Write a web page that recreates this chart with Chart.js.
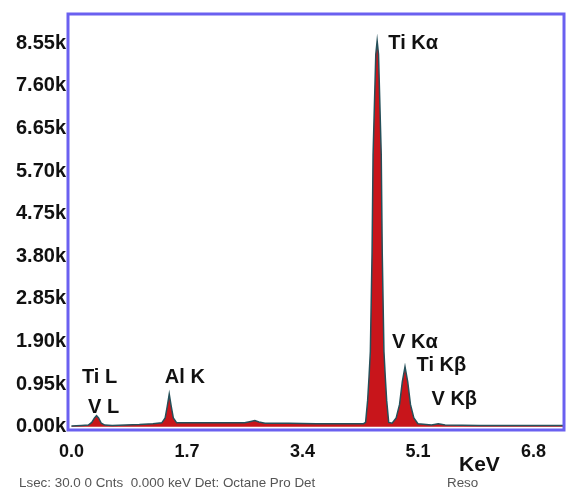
<!DOCTYPE html>
<html>
<head>
<meta charset="utf-8">
<script src="https://cdn.jsdelivr.net/npm/chart.js@4.4.1/dist/chart.umd.min.js"></script>
<style>
  html, body { margin: 0; padding: 0; background: #fff; }
  #wrap { position: relative; width: 566px; height: 494px; }
  #footnote { position: absolute; left: 19px; top: 475px; font: 13.4px "Liberation Sans", Arial, sans-serif; color: #555; white-space: pre; }
  #reso { position: absolute; left: 447px; top: 475px; font: 13.4px "Liberation Sans", Arial, sans-serif; color: #555; }
  #unit { position: absolute; left: 459px; top: 452px; font: bold 21px "Liberation Sans", Arial, sans-serif; color: #111; }
</style>
</head>
<body>
<div id="wrap">
  <canvas id="spectrum" width="566" height="494"></canvas>
  <div id="unit">KeV</div>
  <div id="footnote">Lsec: 30.0 0 Cnts  0.000 keV Det: Octane Pro Det</div>
  <div id="reso">Reso</div>
</div>
<script>
// energy (keV) and counts (thousands)
const energy = [0.00, 0.15, 0.25, 0.30, 0.34, 0.37, 0.40, 0.44, 0.49, 0.60, 0.80, 1.00, 1.20, 1.33, 1.38, 1.41, 1.44, 1.47, 1.50, 1.55,
  1.80, 2.20, 2.55, 2.64, 2.70, 2.76, 2.85, 3.20, 3.60, 4.00, 4.30, 4.33, 4.36, 4.38, 4.40, 4.425, 4.44, 4.48, 4.50, 4.52,
  4.56, 4.575, 4.60, 4.62, 4.64, 4.67, 4.72, 4.78, 4.83, 4.87, 4.91, 4.95, 4.99, 5.04, 5.10, 5.30, 5.40, 5.50, 6.00, 6.80, 7.25];
const counts = [0.02, 0.03, 0.04, 0.10, 0.20, 0.25, 0.20, 0.08, 0.04, 0.03, 0.04, 0.05, 0.07, 0.09, 0.20, 0.45, 0.73, 0.45, 0.20, 0.09,
  0.09, 0.09, 0.09, 0.12, 0.14, 0.11, 0.08, 0.08, 0.07, 0.07, 0.07, 0.10, 0.59, 1.10, 1.68, 3.87, 6.07, 8.30, 8.60, 8.30,
  6.07, 3.87, 1.68, 1.10, 0.59, 0.10, 0.08, 0.20, 0.50, 1.00, 1.34, 1.00, 0.50, 0.20, 0.07, 0.04, 0.07, 0.04, 0.03, 0.03, 0.03];

const xTicks = [0.0, 1.7, 3.4, 5.1, 6.8];
const yTicks = [0.00, 0.95, 1.90, 2.85, 3.80, 4.75, 5.70, 6.65, 7.60, 8.55];

// peak labels: text, keV of left edge, counts of baseline
const peakNames = ['Ti K\u03b1', 'V K\u03b1', 'Ti K\u03b2', 'V K\u03b2', 'Al K', 'Ti L', 'V L'];
const peakX = [4.665, 4.72, 5.08, 5.30, 1.375, 0.155, 0.245];
const peakY = [8.42, 1.75, 1.245, 0.48, 0.98, 0.98, 0.30];

const axisBlue = '#6a60f0';

const frame = {
  id: 'frame',
  afterDraw(chart) {
    const { ctx, chartArea: a, scales } = chart;
    ctx.save();
    ctx.strokeStyle = axisBlue;
    ctx.lineWidth = 3;
    ctx.strokeRect(a.left, a.top, a.right - a.left, a.bottom - a.top);
    ctx.fillStyle = '#111';
    ctx.font = 'bold 20px "Liberation Sans", Arial, sans-serif';
    ctx.textBaseline = 'alphabetic';
    peakNames.forEach((t, i) => {
      ctx.fillText(t, scales.x.getPixelForValue(peakX[i]), scales.y.getPixelForValue(peakY[i]));
    });
    ctx.restore();
  }
};

new Chart(document.getElementById('spectrum'), {
  type: 'line',
  data: {
    datasets: [{
      data: energy.map((e, i) => ({ x: e, y: counts[i] })),
      borderColor: '#25505a',
      borderWidth: 1.5,
      backgroundColor: '#c8151b',
      fill: 'origin',
      pointRadius: 0,
      tension: 0
    }]
  },
  plugins: [frame],
  options: {
    responsive: false,
    animation: false,
    layout: { padding: { top: 7, right: 2, left: 0, bottom: 0 } },
    plugins: { legend: { display: false }, tooltip: { enabled: false } },
    scales: {
      x: {
        type: 'linear', min: -0.05, max: 7.25,
        afterBuildTicks: s => { s.ticks = xTicks.map(v => ({ value: v })); },
        afterFit: s => { s.height = 64; },
        grid: { display: false, drawTicks: false },
        border: { display: false },
        ticks: { padding: 11, color: '#111', font: { family: 'Liberation Sans', size: 18, weight: 'bold' }, callback: v => v.toFixed(1), maxRotation: 0 }
      },
      y: {
        type: 'linear', min: -0.07, max: 9.2,
        afterBuildTicks: s => { s.ticks = yTicks.map(v => ({ value: v })); },
        afterFit: s => { s.width = 68; },
        grid: { display: false, drawTicks: false },
        border: { display: false },
        ticks: { padding: 2, color: '#111', font: { family: 'Liberation Sans', size: 20, weight: 'bold' }, callback: v => v.toFixed(2) + 'k' }
      }
    }
  }
});
</script>
</body>
</html>
